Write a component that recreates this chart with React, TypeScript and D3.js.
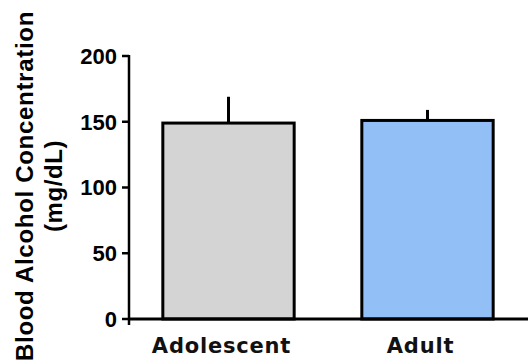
import React from "react";
import * as d3 from "d3";

const categories = ["Adolescent", "Adult"];
const means = [149, 151];
const errors = [20, 8];
const yTicks = [0, 50, 100, 150, 200];
const barColors = ["#d4d4d4", "#93bff7"];
const yTitle = ["Blood Alcohol Concentration", "(mg/dL)"];

const ARIAL = "'Liberation Sans', Arial, sans-serif";
const VERDANA = "'DejaVu Sans', Verdana, sans-serif";

export default function App() {
  const W = 531, H = 364;
  const axisX = 129;
  const y = d3.scaleLinear().domain([0, 200]).range([319, 56]);
  const x = d3
    .scaleBand<string>()
    .domain(categories)
    .range([axisX, 527])
    .paddingInner(0.34)
    .paddingOuter(0.17);

  return (
    <svg
      width={W}
      height={H}
      style={{ position: "absolute", left: 0, top: 0, background: "#fff" }}
    >
      {categories.map((c, i) => {
        const x0 = x(c)!;
        const bw = x.bandwidth();
        const cx = x0 + bw / 2;
        return (
          <g key={c}>
            <line
              x1={cx}
              x2={cx}
              y1={y(means[i])}
              y2={y(means[i] + errors[i])}
              stroke="#000"
              strokeWidth={3}
            />
            <rect
              x={x0}
              y={y(means[i])}
              width={bw}
              height={y(0) - y(means[i])}
              fill={barColors[i]}
              stroke="#000"
              strokeWidth={3}
            />
          </g>
        );
      })}
      <line x1={axisX} x2={axisX} y1={y(200) - 1} y2={y(0) + 6} stroke="#000" strokeWidth={2.5} />
      {yTicks.map((t) => (
        <g key={t}>
          <line x1={axisX - 7} x2={axisX} y1={y(t)} y2={y(t)} stroke="#000" strokeWidth={2.5} />
          <text
            x={117}
            y={y(t)}
            dy="0.36em"
            textAnchor="end"
            style={{ fontFamily: ARIAL, fontWeight: 700, fontSize: 22 }}
            fill="#000"
          >
            {t}
          </text>
        </g>
      ))}
      <line x1={axisX - 1} x2={528} y1={y(0)} y2={y(0)} stroke="#000" strokeWidth={3} />
      {categories.map((c) => (
        <text
          key={c}
          x={x(c)! + x.bandwidth() / 2 - 7}
          y={353}
          textAnchor="middle"
          style={{ fontFamily: VERDANA, fontWeight: 700, fontSize: 21, letterSpacing: 0.8 }}
          fill="#111"
        >
          {c}
        </text>
      ))}
      <text
        transform={`translate(33,186) rotate(-90)`}
        textAnchor="middle"
        style={{ fontFamily: ARIAL, fontWeight: 700, fontSize: 24, letterSpacing: 0.7 }}
        fill="#000"
      >
        {yTitle[0]}
      </text>
      <text
        transform={`translate(62,186) rotate(-90)`}
        textAnchor="middle"
        style={{ fontFamily: ARIAL, fontWeight: 700, fontSize: 24, letterSpacing: 0.6 }}
        fill="#000"
      >
        {yTitle[1]}
      </text>
    </svg>
  );
}
